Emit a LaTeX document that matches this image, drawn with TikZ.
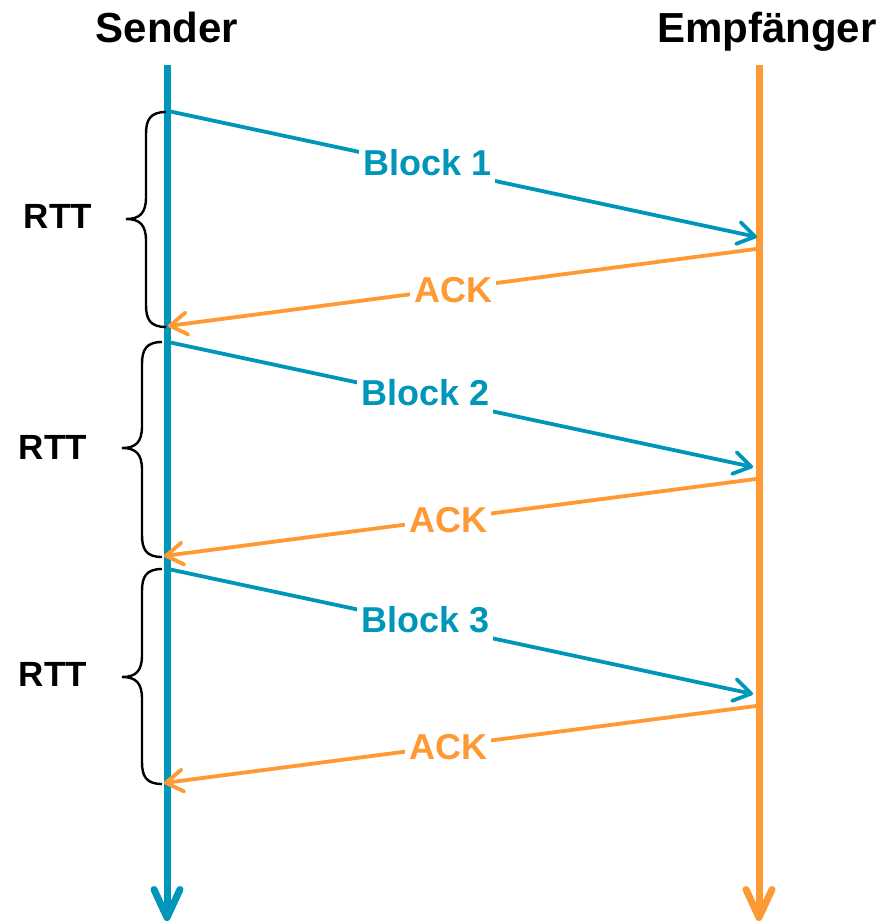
\documentclass[tikz,border=0pt]{standalone}
\usepackage{fontspec}
\setmainfont{Liberation Sans}
\usetikzlibrary{arrows.meta}
\definecolor{sblue}{RGB}{0,150,185}
\definecolor{rorange}{RGB}{255,153,51}
\newcommand\rttbrace[4]{%
  \draw[brace] (#1,#2) .. controls ({#1-16},#2) and ({#1-20},{#2+8}) .. ({#1-20},{#2+22})
    -- ({#1-20},{#4-22}) .. controls ({#1-20},{#4-6}) and ({#1-26},#4) .. ({#1-40},#4)
    .. controls ({#1-26},#4) and ({#1-20},{#4+6}) .. ({#1-20},{#4+22})
    -- ({#1-20},{#3-22}) .. controls ({#1-20},{#3-8}) and ({#1-16},#3) .. (#1,#3);}
\begin{document}
\begin{tikzpicture}[x=1pt,y=-1pt,
  lifeline/.style={line width=7pt},
  msg/.style={line width=3.8pt,-{Straight Barb[length=17pt,width=22pt,round]}},
  lbl/.style={fill=white,inner xsep=4pt,inner ysep=1pt,font=\fontsize{36}{40}\selectfont\bfseries},
  blbl/.style={lbl,inner ysep=8pt,yshift=4pt,text=sblue},
  albl/.style={lbl,yshift=-1pt,text=rorange},
  head/.style={anchor=base,font=\fontsize{42}{48}\selectfont\bfseries},
  rtt/.style={anchor=base,font=\fontsize{35}{40}\selectfont\bfseries},
  brace/.style={draw=black,line width=2.4pt}]
\useasboundingbox (0,0) rectangle (891,924);
% headers
\node[head] (sender) at (167,42) {Sender};
\node[head] (empf) at (767,42) {Empfänger};
% lifelines
\coordinate (st) at (167,65);
\coordinate (sb) at (167,921);
\coordinate (rt) at (759,65);
\coordinate (rb) at (759,921);
\draw[lifeline,sblue,-{Straight Barb[length=28pt,width=26pt,round]}] (st) -- (sb);
\draw[lifeline,rorange,-{Straight Barb[length=28pt,width=26pt,round]}] (rt) -- (rb);
% message endpoints
\coordinate (b1s) at (168,111);
\coordinate (b1e) at (757,237);
\coordinate (a1s) at (756,249);
\coordinate (a1e) at (168,326);
\coordinate (b2s) at (168,342);
\coordinate (b2e) at (753,467);
\coordinate (a2s) at (756,479);
\coordinate (a2e) at (164,556);
\coordinate (b3s) at (168,569);
\coordinate (b3e) at (753,694);
\coordinate (a3s) at (756,706);
\coordinate (a3e) at (164,783);
% messages
\draw[msg,sblue] (b1s) -- node[blbl,pos=0.44] (l1) {Block 1} (b1e);
\draw[msg,rorange] (a1s) -- node[albl,pos=0.515] (k1) {ACK} (a1e);
\draw[msg,sblue] (b2s) -- node[blbl,pos=0.44] (l2) {Block 2} (b2e);
\draw[msg,rorange] (a2s) -- node[albl,pos=0.52] (k2) {ACK} (a2e);
\draw[msg,sblue] (b3s) -- node[blbl,pos=0.44] (l3) {Block 3} (b3e);
\draw[msg,rorange] (a3s) -- node[albl,pos=0.52] (k3) {ACK} (a3e);
% braces
\rttbrace{166}{112}{327}{219}
\rttbrace{162}{342}{557}{448}
\rttbrace{162}{569}{784}{677}
\node[rtt] (rtt1) at (58,228) {RTT};
\node[rtt] (rtt2) at (53,459) {RTT};
\node[rtt] (rtt3) at (53,686) {RTT};
\end{tikzpicture}
\end{document}
